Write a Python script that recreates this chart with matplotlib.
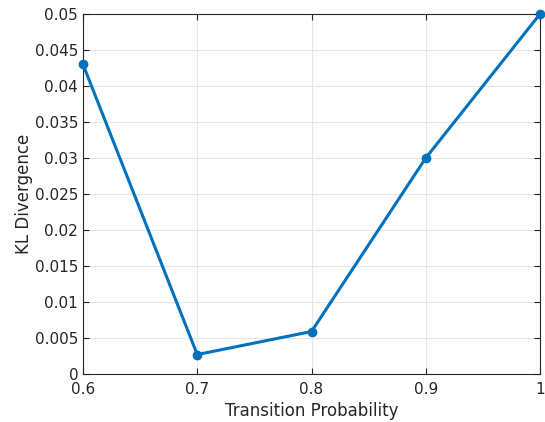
import numpy as np
import matplotlib
matplotlib.use('Agg')
import matplotlib.pyplot as plt

trans_prob = [0.6, 0.7, 0.8, 0.9, 1.0]
kl_div = [0.043, 0.0027, 0.0059, 0.030, 0.050]
xticks = [0.6, 0.7, 0.8, 0.9, 1.0]
xticklabels = ['0.6', '0.7', '0.8', '0.9', '1']
yticks = np.arange(0, 0.0501, 0.005)
yticklabels = ['0', '0.005', '0.01', '0.015', '0.02', '0.025', '0.03',
               '0.035', '0.04', '0.045', '0.05']

plt.rcParams['font.family'] = 'DejaVu Sans'
fig = plt.figure(figsize=(5.45, 4.22), dpi=100)
ax = fig.add_axes([83/545, 48/422, 457/545, 360/422])

ax.plot(trans_prob, kl_div, color='#0072BD', linewidth=2.2,
        marker='o', markersize=6, clip_on=False, zorder=3)

ax.set_xlim(0.6, 1.0)
ax.set_ylim(0, 0.05)
ax.set_xticks(xticks)
ax.set_xticklabels(xticklabels)
ax.set_yticks(yticks)
ax.set_yticklabels(yticklabels)
ax.grid(True, color='#e5e5e5', linewidth=0.8)
ax.set_axisbelow(True)
ax.tick_params(direction='in', top=True, right=True, length=4,
               labelsize=11, colors='#262626', width=0.8)
ax.tick_params(axis='x', pad=6)
for s in ax.spines.values():
    s.set_color('#262626')
    s.set_linewidth(0.8)
ax.set_xlabel('Transition Probability', fontsize=12, color='#262626', labelpad=3)
ax.set_ylabel('KL Divergence', fontsize=12, color='#262626', labelpad=1)

fig.savefig('out.png', dpi=100)
